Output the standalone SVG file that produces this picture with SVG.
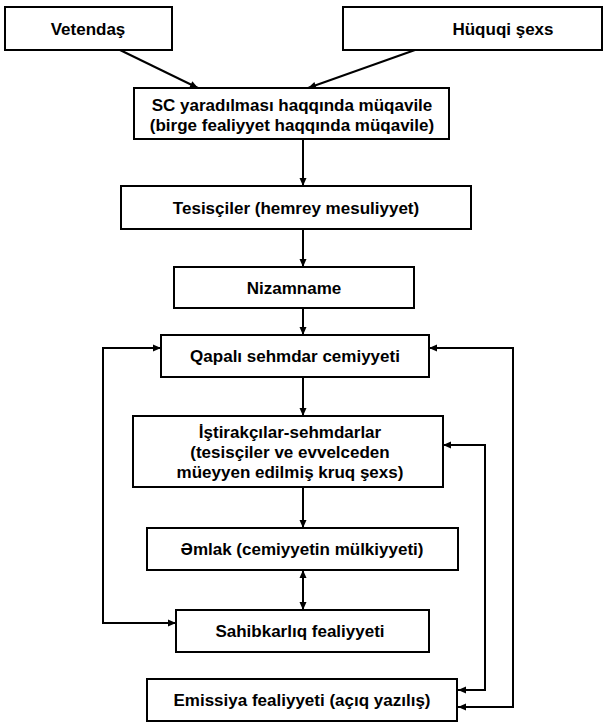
<svg xmlns="http://www.w3.org/2000/svg" width="607" height="724" viewBox="0 0 607 724">
<style>
.box{fill:#fff;stroke:#000;stroke-width:2}
.t{font-family:"Liberation Sans",Arial,sans-serif;font-weight:bold;font-size:17px;fill:#000;text-anchor:middle}
.c{fill:none;stroke:#000;stroke-width:2}
</style>
<defs>
<marker id="ah" markerUnits="userSpaceOnUse" markerWidth="10" markerHeight="10" viewBox="0 0 10 10" refX="9" refY="5" orient="auto-start-reverse">
<path d="M1,1.5 L9,5 L1,8.5 Z" fill="#000"/>
</marker>
</defs>
<rect width="607" height="724" fill="#fff"/>
<g id="connectors">
<path class="c" d="M120,50 L198,88" marker-end="url(#ah)"/>
<path class="c" d="M415,50 L308,88" marker-end="url(#ah)"/>
<path class="c" d="M303,140 V186" marker-end="url(#ah)"/>
<path class="c" d="M303,229 V267" marker-end="url(#ah)"/>
<path class="c" d="M303,308 V335" marker-end="url(#ah)"/>
<path class="c" d="M303,377 V416" marker-end="url(#ah)"/>
<path class="c" d="M303,487 V528" marker-end="url(#ah)"/>
<path class="c" d="M303,570 V610" marker-start="url(#ah)" marker-end="url(#ah)"/>
<path class="c" d="M161,348 H103 V623 H176" marker-start="url(#ah)" marker-end="url(#ah)"/>
<path class="c" d="M429,348 H513 V707 H458" marker-start="url(#ah)" marker-end="url(#ah)"/>
<path class="c" d="M443,445 H485 V690 H458" marker-start="url(#ah)" marker-end="url(#ah)"/>
</g>
<g id="vetendas">
<rect class="box" x="5" y="7" width="167" height="43"/>
<text class="t" x="88" y="35">Vetendaş</text>
</g>
<g id="huquqi">
<rect class="box" x="343" y="7" width="259" height="43"/>
<text class="t" x="503" y="35">Hüquqi şexs</text>
</g>
<g id="sc">
<rect class="box" x="134" y="88" width="315" height="51"/>
<text class="t" x="292" y="111">SC yaradılması haqqında müqavile</text>
<text class="t" x="292" y="131">(birge fealiyyet haqqında müqavile)</text>
</g>
<g id="tesisciler">
<rect class="box" x="121" y="186" width="350" height="43"/>
<text class="t" x="296" y="214">Tesisçiler (hemrey mesuliyyet)</text>
</g>
<g id="nizamname">
<rect class="box" x="174" y="267" width="240" height="41"/>
<text class="t" x="294" y="294">Nizamname</text>
</g>
<g id="qapali">
<rect class="box" x="161" y="335" width="268" height="42"/>
<text class="t" x="295" y="362">Qapalı sehmdar cemiyyeti</text>
</g>
<g id="istirakcilar">
<rect class="box" x="133" y="416" width="310" height="71"/>
<text class="t" x="290" y="438">İştirakçılar-sehmdarlar</text>
<text class="t" x="290" y="458">(tesisçiler ve evvelceden</text>
<text class="t" x="290" y="478">müeyyen edilmiş  kruq şexs)</text>
</g>
<g id="emlak">
<rect class="box" x="147" y="528" width="311" height="42"/>
<text class="t" x="302" y="555">Əmlak (cemiyyetin mülkiyyeti)</text>
</g>
<g id="sahibkarliq">
<rect class="box" x="176" y="610" width="253" height="42"/>
<text class="t" x="300" y="637">Sahibkarlıq fealiyyeti</text>
</g>
<g id="emissiya">
<rect class="box" x="147" y="679" width="310" height="42"/>
<text class="t" x="302" y="706">Emissiya fealiyyeti (açıq yazılış)</text>
</g>
</svg>
